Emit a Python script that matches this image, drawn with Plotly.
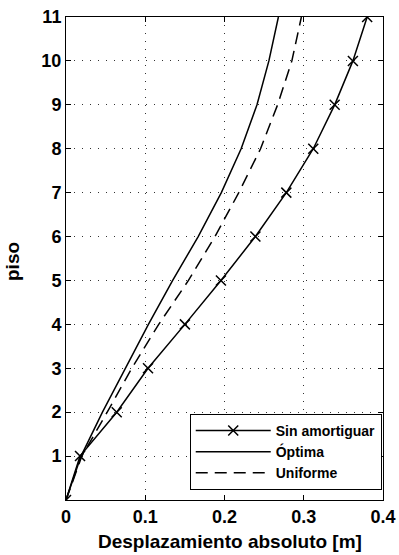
import plotly.graph_objects as go

pisos = [0, 1, 2, 3, 4, 5, 6, 7, 8, 9, 10, 11]
sin_amortiguar = [0, 0.0177, 0.064, 0.1035, 0.150, 0.1955, 0.239, 0.278, 0.312, 0.339, 0.362, 0.380]
optima = [0, 0.019, 0.046, 0.0745, 0.104, 0.1346, 0.1668, 0.196, 0.221, 0.241, 0.256, 0.268]
uniforme = [0, 0.020, 0.052, 0.083, 0.117, 0.1545, 0.188, 0.218, 0.2455, 0.267, 0.285, 0.297]

x_ticks = [0, 0.1, 0.2, 0.3, 0.4]
x_labels = ["0", "0.1", "0.2", "0.3", "0.4"]
y_ticks = [1, 2, 3, 4, 5, 6, 7, 8, 9, 10, 11]

FONT = "Liberation Sans, Arial, Helvetica, sans-serif"
W, H = 399, 555
L, R, T, B = 66, 16, 17, 55

fig = go.Figure()
fig.add_trace(go.Scatter(
    x=sin_amortiguar, y=pisos, mode="lines+markers", name="Sin amortiguar",
    line=dict(color="black", width=1.5),
    marker=dict(symbol="x-thin", size=10, line=dict(color="black", width=1.5)),
))
fig.add_trace(go.Scatter(
    x=optima, y=pisos, mode="lines", name="Óptima",
    line=dict(color="black", width=1.5),
))
fig.add_trace(go.Scatter(
    x=uniforme, y=pisos, mode="lines", name="Uniforme",
    line=dict(color="black", width=1.5, dash="12px,7px"),
))

axis_common = dict(
    showline=True, linecolor="black", linewidth=1, mirror="ticks",
    ticks="inside", ticklen=5, tickcolor="black",
    showgrid=True, gridcolor="#333", gridwidth=1, griddash="1px,7px",
    zeroline=False, automargin=False,
    tickfont=dict(family=FONT, size=18, color="black", weight="bold"),
)

pw = W - L - R
ph = H - T - B

fig.update_layout(
    width=W, height=H,
    margin=dict(l=L, r=R, t=T, b=B),
    paper_bgcolor="white", plot_bgcolor="white",
    showlegend=True,
    legend=dict(
        x=0.996, y=0.021, xanchor="right", yanchor="bottom",
        bgcolor="white", bordercolor="black", borderwidth=1,
        font=dict(family=FONT, size=14, color="black", weight="bold"),
        itemwidth=75, tracegroupgap=0,
    ),
    xaxis=dict(range=[0, 0.4], tickvals=x_ticks, ticktext=x_labels, **axis_common),
    yaxis=dict(range=[0, 11], tickvals=y_ticks, **axis_common),
    annotations=[
        dict(text="Desplazamiento absoluto [m]", xref="paper", yref="paper",
             x=(230 - L) / pw, y=-(541 - (H - B)) / ph, xanchor="center", yanchor="middle",
             showarrow=False,
             font=dict(family=FONT, size=19, color="black", weight="bold")),
        dict(text="piso", xref="paper", yref="paper", textangle=-90,
             x=-(L - 12) / pw, y=((H - B) - 262) / ph, xanchor="center", yanchor="middle",
             showarrow=False,
             font=dict(family=FONT, size=19, color="black", weight="bold")),
    ],
)

fig.write_html("out.html")
